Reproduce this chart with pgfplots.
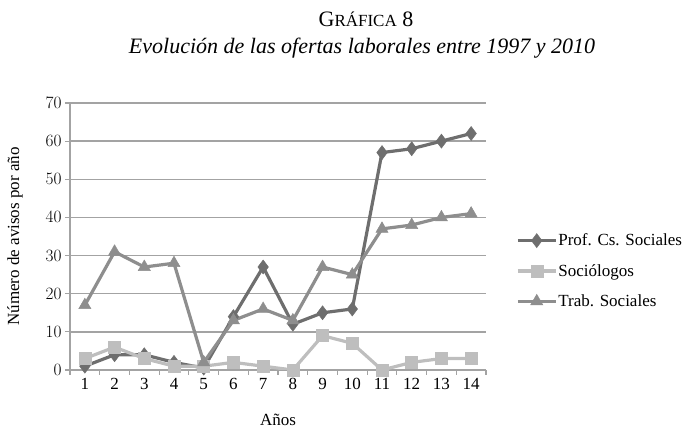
\documentclass[border=0pt]{standalone}
\usepackage{fontspec}
\setmainfont{Liberation Serif}
\usepackage{pgfplots}
\pgfplotsset{compat=1.18}
\definecolor{cprof}{HTML}{6E6E6E}
\definecolor{csoc}{HTML}{BEBEBE}
\definecolor{ctrab}{HTML}{8E8E8E}
\definecolor{cgrid}{HTML}{A3A3A3}
\begin{document}
\begin{tikzpicture}
\useasboundingbox (0pt,0pt) rectangle (686pt,431pt);
\node[font=\fontsize{22}{26}\selectfont] at (366pt,412pt) {G{\fontsize{17}{20}\selectfont RÁFICA} 8};
\node[font=\fontsize{22}{26}\selectfont\itshape] at (362pt,383pt) {Evolución de las ofertas laborales entre 1997 y 2010};
\begin{axis}[
  at={(70pt,61pt)}, anchor=south west,
  scale only axis, width=416pt, height=267pt,
  xmin=0.5, xmax=14.5, ymin=0, ymax=70,
  axis x line*=bottom, axis y line*=left,
  xtick={0.5,1.5,...,14.5}, x tick label as interval,
  xticklabels={1,2,3,4,5,6,7,8,9,10,11,12,13,14},
  ytick={0,10,...,70},
  ymajorgrids, grid style={cgrid, line width=1.5pt},
  axis line style={cgrid, line width=1.5pt},
  tick style={cgrid, line width=1.2pt},
  tick align=outside, major tick length=5pt,
  tick label style={font=\fontsize{17}{20}\selectfont},
  label style={font=\fontsize{17}{20}\selectfont},
  xlabel={Años}, ylabel={Número de avisos por año},
  xlabel style={at={(axis description cs:0.5,-0.187)}, anchor=center},
  ylabel style={at={(axis description cs:-0.132,0.5)}, anchor=center},
  legend style={draw=none, at={(1.072,0.371)}, anchor=west, font=\fontsize{17}{20}\selectfont, row sep=13pt, inner xsep=0pt, nodes={inner xsep=1pt}},
  legend cell align=left,
  legend image code/.code={\draw[mark repeat=2,mark phase=2] plot coordinates {(0pt,0pt)(19pt,0pt)(38pt,0pt)};},
]
\addplot[cprof, line width=3.2pt, mark=diamond*, mark size=7pt, mark options={solid, line width=0.5pt, fill=cprof}] coordinates {
(1,1)(2,4)(3,4)(4,2)(5,0.5)(6,14)(7,27)(8,12)(9,15)(10,16)(11,57)(12,58)(13,60)(14,62)};
\addlegendentry{Prof. Cs. Sociales}
\addplot[csoc, line width=3.2pt, mark=square*, mark size=6pt, mark options={solid, line width=0.5pt, fill=csoc}] coordinates {
(1,3)(2,6)(3,3)(4,1)(5,1)(6,2)(7,1)(8,0)(9,9)(10,7)(11,0)(12,2)(13,3)(14,3)};
\addlegendentry{Sociólogos}
\addplot[ctrab, line width=3.2pt, mark=triangle*, mark size=7pt, mark options={solid, line width=0.5pt, fill=ctrab}] coordinates {
(1,17)(2,31)(3,27)(4,28)(5,2)(6,13)(7,16)(8,13)(9,27)(10,25)(11,37)(12,38)(13,40)(14,41)};
\addlegendentry{Trab. Sociales}
\end{axis}
\end{tikzpicture}
\end{document}
